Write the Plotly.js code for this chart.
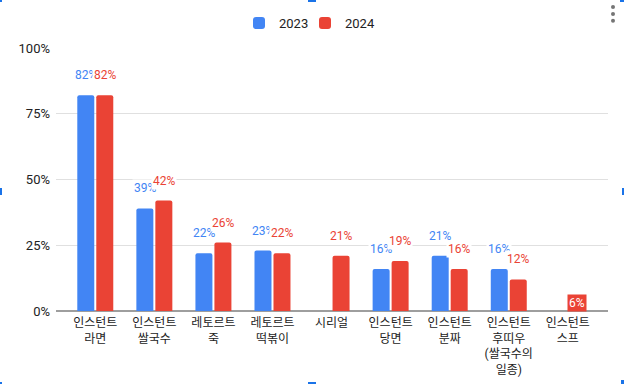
<!DOCTYPE html>
<html>
<head>
<meta charset="utf-8">
<script src="https://cdn.plot.ly/plotly-3.0.1.min.js"></script>
<style>
html,body{margin:0;padding:0;background:#fff;}
#chart{width:624px;height:384px;}
</style>
</head>
<body>
<div id="chart"></div>
<script>
const categories = ['인스턴트<br>라면','인스턴트<br>쌀국수','레토르트<br>죽','레토르트<br>떡볶이','시리얼','인스턴트<br>당면','인스턴트<br>분짜','인스턴트<br>후띠우<br>(쌀국수의<br>일종)','인스턴트<br>스프'];
const values2023 = [82, 39, 22, 23, null, 16, 21, 16, null];
const values2024 = [82, 42, 26, 22, 21, 19, 16, 12, 6];
const seriesNames = ['2023', '2024'];
const yTickVals = [0, 25, 50, 75, 100];
const yTickText = ['0%', '25%', '50%', '75%', '100%'];

const colors = ['#4285F4', '#EA4335'];
const FONT = "Roboto, 'Noto Sans CJK KR', Arial, sans-serif";
const series = [values2023, values2024];
const legendIds = ['legend', 'legend2'];

const traces = series.map((vals, i) => ({
  type: 'bar',
  name: seriesNames[i],
  x: categories,
  y: vals,
  legend: legendIds[i],
  marker: {color: colors[i], line: {width: 0}},
  hoverinfo: 'none'
}));

const annotations = [];
series.forEach((vals, i) => {
  vals.forEach((v, j) => {
    if (v === null) return;
    const inside = v < 10;
    annotations.push({
      x: categories[j],
      y: inside ? v / 2 : v,
      xref: 'x', yref: 'y',
      xshift: i === 0 ? -9.5 : 9.5,
      yshift: inside ? 0 : 20,
      yanchor: 'middle',
      text: v + '%',
      showarrow: false,
      font: {family: FONT, size: 12, color: inside ? '#ffffff' : colors[i]},
      bgcolor: inside ? colors[i] : '#ffffff',
      borderpad: 1
    });
  });
});

// decorative: menu dots and selection handles
const shapes = [];
[41, 34, 27.3].forEach(c => shapes.push({
  type: 'circle', xref: 'paper', yref: 'paper', xsizemode: 'pixel', ysizemode: 'pixel',
  xanchor: 1, yanchor: 1, x0: 3, x1: 7, y0: c - 2, y1: c + 2,
  fillcolor: '#757575', line: {width: 0}
}));
const handleColor = '#1a73e8';
const handles = [
  [252, 260, 46, 48, 0, 1],
  [252, 260, -73, -71, 0, 0],
  [-56, -54, 116, 123, 0, 0],
  [566, 568, 116, 123, 0, 0],
  [-56, -54, 46, 48, 0, 1],
  [564, 568, 46, 48, 0, 1],
  [-56, -54, -73, -71, 0, 0],
  [565, 568, -73, -69, 0, 0]
];
handles.forEach(h => shapes.push({
  type: 'rect', xref: 'paper', yref: 'paper', xsizemode: 'pixel', ysizemode: 'pixel',
  xanchor: h[4], yanchor: h[5], x0: h[0], x1: h[1], y0: h[2], y1: h[3],
  fillcolor: handleColor, line: {width: 0}
}));

const legendBase = {
  orientation: 'h', xanchor: 'left', y: 1 - 23 / 384, yanchor: 'middle',
  yref: 'container', xref: 'container',
  font: {family: FONT, size: 13, color: '#222222'},
  bgcolor: 'rgba(0,0,0,0)'
};

const layout = {
  width: 624, height: 384,
  margin: {l: 56, r: 16, t: 48, b: 73, pad: 0},
  paper_bgcolor: '#ffffff', plot_bgcolor: '#ffffff',
  font: {family: FONT, size: 13, color: '#222222'},
  barmode: 'group',
  bargap: 0.357,
  bargroupgap: 0.105,
  barcornerradius: 2,
  showlegend: true,
  legend: Object.assign({}, legendBase, {x: 239 / 624}),
  legend2: Object.assign({}, legendBase, {x: 305 / 624}),
  xaxis: {
    type: 'category',
    range: [-0.665, 8.68],
    showgrid: false, zeroline: false, showline: false,
    ticks: '',
    ticklabelstandoff: 3,
    tickfont: {family: FONT, size: 12, color: '#222222'},
    fixedrange: true
  },
  yaxis: {
    range: [0, 100],
    tickvals: yTickVals, ticktext: yTickText,
    showgrid: true, gridcolor: '#e0e0e0', gridwidth: 1,
    zeroline: true, zerolinecolor: '#9e9e9e', zerolinewidth: 1.5,
    showline: false, ticks: '',
    ticklabelstandoff: 5,
    tickfont: {family: FONT, size: 13, color: '#222222'},
    fixedrange: true
  },
  annotations: annotations,
  shapes: shapes
};

Plotly.newPlot('chart', traces, layout, {displayModeBar: false, staticPlot: true});
</script>
</body>
</html>
